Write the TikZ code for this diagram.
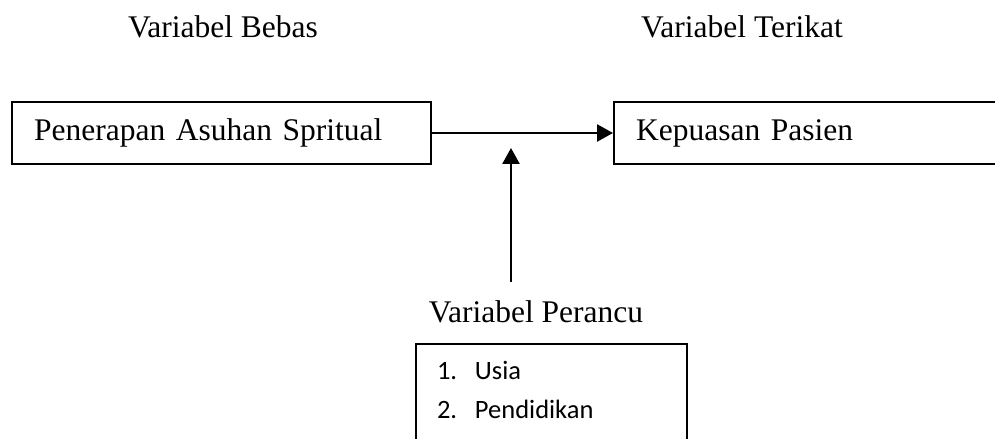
\documentclass[tikz,border=0pt]{standalone}
\usepackage{fontspec}
\setmainfont{Liberation Serif}
\newfontfamily\calibri{Carlito}
\usetikzlibrary{arrows.meta,positioning}

\begin{document}
\begin{tikzpicture}[x=0.4pt,y=-0.4pt,
  varbox/.style={draw,line width=0.9pt,inner xsep=8.8pt,minimum height=24.8pt,
    align=left,font=\fontsize{12.6}{15}\selectfont},
  heading/.style={font=\fontsize{12.6}{15}\selectfont,anchor=base},
  link/.style={line width=1pt,-{Triangle[length=6.4pt,width=6.8pt]}}]

\useasboundingbox (0,0) rectangle (995,439);
\clip (0,0) rectangle (995,439);

\node[heading] (bebasLbl) at (223,38) {Variabel Bebas};
\node[heading] (terikatLbl) at (742,38) {Variabel Terikat};
\node[heading] (perancuLbl) at (536,322) {Variabel Perancu};

\node[varbox,anchor=west,text width=150pt] (asuhan) at (11,133) {Penerapan Asuhan Spritual};
\node[varbox,anchor=west,text width=180pt] (puas) at (613,133) {Kepuasan Pasien};

\node[varbox,anchor=north,inner xsep=8.4pt,inner ysep=0pt,text width=91.6pt,
  font=\calibri\fontsize{10.6}{15.6}\selectfont] (faktor) at (551.5,343)
  {\rule{0pt}{14pt}\makebox[15.2pt][l]{1.}Usia\\
   \makebox[15.2pt][l]{2.}Pendidikan\rule[-14pt]{0pt}{0pt}};

\coordinate (lift) at (511,282);
\coordinate (tip) at (511,148);

\draw[link] (asuhan) -- (puas);
\draw[link] (lift) -- (tip);

\end{tikzpicture}
\end{document}
